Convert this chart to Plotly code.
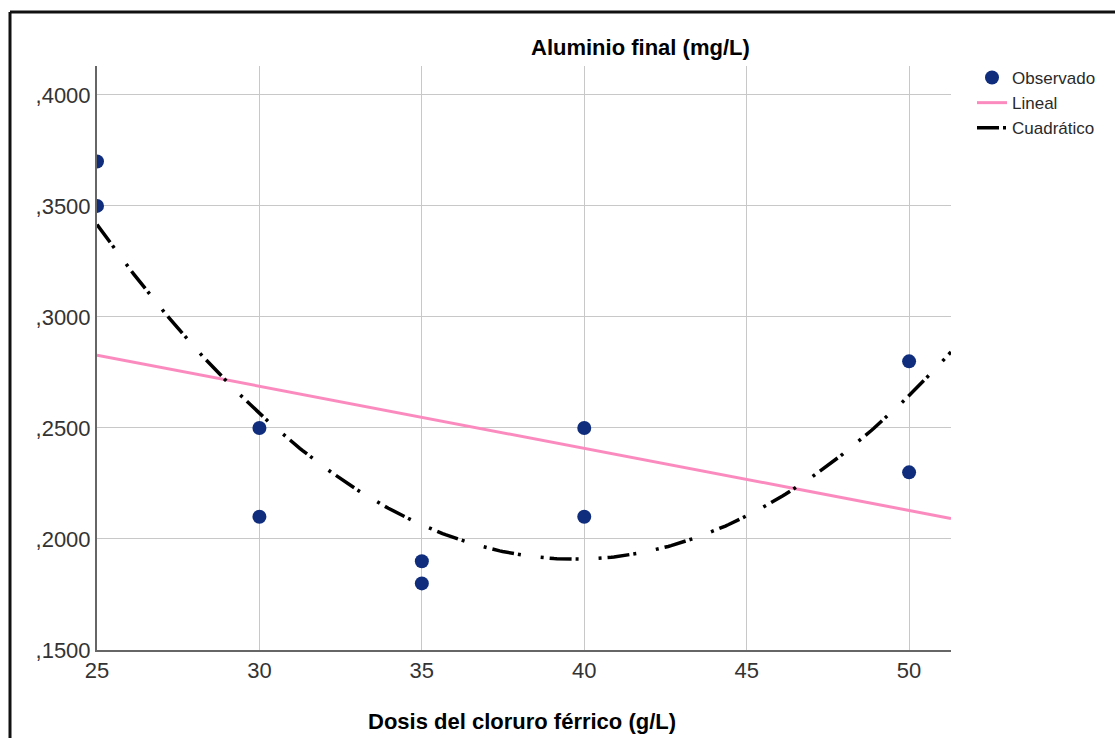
import numpy as np
import plotly.graph_objects as go

# Observed data
dosis = [25, 25, 30, 30, 35, 35, 40, 40, 50, 50]
aluminio = [0.37, 0.35, 0.25, 0.21, 0.19, 0.18, 0.25, 0.21, 0.28, 0.23]

x_ticks = [25, 30, 35, 40, 45, 50]
y_ticks = [0.15, 0.20, 0.25, 0.30, 0.35, 0.40]
y_ticktext = [",1500", ",2000", ",2500", ",3000", ",3500", ",4000"]

x_range = [25, 51.29]
y_range = [0.15, 0.413]

# Fitted models (regressions of the observed data)
lin = np.polyfit(dosis, aluminio, 1)
quad = np.polyfit(dosis, aluminio, 2)
xs = np.linspace(x_range[0], x_range[1], 300)

W, H = 1115, 738
L, R, T, B = 97, 164, 66, 88
pw, ph = W - L - R, H - T - B


def px(xp):
    return (xp - L) / pw


def py(yp):
    return (H - B - yp) / ph


fig = go.Figure()
fig.add_trace(go.Scatter(
    x=dosis, y=aluminio, mode="markers", name="Observado",
    marker=dict(color="#0f2d7c", size=14),
))
fig.add_trace(go.Scatter(
    x=xs, y=np.polyval(lin, xs), mode="lines", name="Lineal",
    line=dict(color="#fb8bbf", width=3),
))
fig.add_trace(go.Scatter(
    x=xs, y=np.polyval(quad, xs), mode="lines", name="Cuadrático",
    line=dict(color="#000000", width=3.5, dash="22px,4px,3px,20px,3px,6px"),
))

font_family = "Liberation Sans, Arial, sans-serif"

fig.update_layout(
    width=W, height=H,
    margin=dict(l=L, r=R, t=T, b=B, autoexpand=False),
    paper_bgcolor="white", plot_bgcolor="white",
    font=dict(family=font_family, color="#222222"),
    showlegend=True,
    legend=dict(
        x=px(972), xanchor="left", y=py(60), yanchor="top",
        font=dict(size=17, color="#2a2a2a", family=font_family),
        bgcolor="rgba(0,0,0,0)", borderwidth=0,
        tracegroupgap=0, itemwidth=30,
    ),
    xaxis=dict(
        range=x_range, tickvals=x_ticks, ticktext=[str(v) for v in x_ticks],
        showgrid=True, gridcolor="#c8c8c8", gridwidth=1.3,
        showline=True, linecolor="#666666", linewidth=2,
        zeroline=False, ticks="",
        tickfont=dict(size=22, color="#333333", family=font_family),
    ),
    yaxis=dict(
        range=y_range, tickvals=y_ticks, ticktext=y_ticktext,
        showgrid=True, gridcolor="#c8c8c8", gridwidth=1.3,
        showline=True, linecolor="#666666", linewidth=2,
        zeroline=False, ticks="",
        tickfont=dict(size=22, color="#333333", family=font_family),
    ),
    annotations=[
        dict(text="<b>Aluminio final (mg/L)</b>", xref="paper", yref="paper",
             x=px(640), y=py(47), xanchor="center", yanchor="middle",
             showarrow=False, font=dict(size=22, color="#000000", family=font_family)),
        dict(text="<b>Dosis del cloruro férrico (g/L)</b>", xref="paper", yref="paper",
             x=px(522), y=py(721), xanchor="center", yanchor="middle",
             showarrow=False, font=dict(size=22, color="#000000", family=font_family)),
    ],
    shapes=[
        dict(type="line", xref="paper", yref="paper",
             x0=px(10), x1=px(1130), y0=py(12), y1=py(12),
             line=dict(color="#111111", width=3)),
        dict(type="line", xref="paper", yref="paper",
             x0=px(10), x1=px(10), y0=py(12), y1=py(760),
             line=dict(color="#111111", width=3)),
    ],
)

fig.write_html("out.html")
